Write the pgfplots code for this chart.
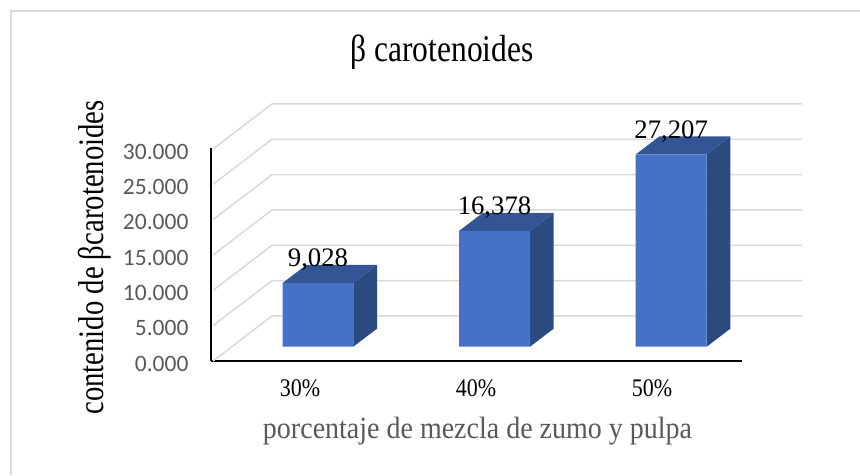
\documentclass[border=0pt]{standalone}
\usepackage{fontspec}
\setmainfont{Liberation Serif}
\newfontfamily\carlito{Carlito}
\usepackage{pgfplots}
\pgfplotsset{compat=1.18}
\definecolor{barfront}{HTML}{4472C4}
\definecolor{bartop}{HTML}{335593}
\definecolor{barside}{HTML}{2A4A80}
\definecolor{gridc}{HTML}{D9D9D9}
\definecolor{txtg}{HTML}{595959}
\begin{document}
\begin{tikzpicture}[x=1pt,y=1pt]
\useasboundingbox (0,0) rectangle (860,475);
\draw[gridc,line width=1.6pt] (11,0) -- (11,464) -- (860,464);
% axis with the walls and the labels
\begin{axis}[
  at={(211pt,114pt)}, anchor=origin, scale only axis, width=531pt, height=213pt,
  xmin=211, xmax=742, ymin=0, ymax=30.14, clip=false,
  axis x line=bottom, axis y line=left,
  axis line style={-, black, line width=1.5pt},
  xtick={300,476,652}, xticklabels={30\%,40\%,50\%},
  ytick={0,5,10,15,20,25,30},
  major tick length=0pt,
  scaled y ticks=false,
  yticklabel style={font=\carlito\fontsize{23.5}{23.5}\selectfont, text=txtg,
     /pgf/number format/assume math mode=true,
     /pgf/number format/fixed, /pgf/number format/fixed zerofill,
     /pgf/number format/precision=3, /pgf/number format/1000 sep={},
     anchor=east, xshift=-19pt, yshift=-2.5pt},
  xticklabel style={font=\fontsize{22}{22}\selectfont, text=black, anchor=center, yshift=-27pt, yscale=1.15},
  title={β carotenoides},
  title style={at={(axis description cs:0.435,1.42)}, anchor=center, font=\fontsize{31.5}{32}\selectfont, yscale=1.2},
  xlabel={porcentaje de mezcla de zumo y pulpa},
  xlabel style={at={(axis description cs:0.502,-0.329)}, anchor=center, text=txtg, font=\fontsize{28}{28}\selectfont, yscale=1.1},
  ylabel={contenido de βcarotenoides},
  ylabel style={at={(axis description cs:-0.2185,0.486)}, anchor=center, rotate=0, font=\fontsize{28.7}{29}\selectfont, yscale=1.25},
]
\addplot[gridc, line width=1.5pt, no markers] coordinates {(213,0) (272,6.37) (802,6.37)};
\addplot[gridc, line width=1.5pt, no markers] coordinates {(213,5) (272,11.37) (802,11.37)};
\addplot[gridc, line width=1.5pt, no markers] coordinates {(213,10) (272,16.37) (802,16.37)};
\addplot[gridc, line width=1.5pt, no markers] coordinates {(213,15) (272,21.37) (802,21.37)};
\addplot[gridc, line width=1.5pt, no markers] coordinates {(213,20) (272,26.37) (802,26.37)};
\addplot[gridc, line width=1.5pt, no markers] coordinates {(213,25) (272,31.37) (802,31.37)};
\addplot[gridc, line width=1.5pt, no markers] coordinates {(213,30) (272,36.37) (802,36.37)};
\end{axis}
% axis with the bars
\begin{axis}[
  at={(211pt,128.3pt)}, anchor=origin, scale only axis, width=531pt, height=212pt,
  xmin=211, xmax=742, ymin=0, ymax=30, clip=false, hide axis,
]
\addplot[fill=barside, draw=none] coordinates {(353.3,0) (377,2.55) (377,11.578) (353.3,9.028)} -- cycle;
\addplot[fill=bartop, draw=none] coordinates {(282.7,9.028) (306.4,11.578) (377,11.578) (353.3,9.028)} -- cycle;
\addplot[fill=barside, draw=none] coordinates {(530,0) (553.7,2.55) (553.7,18.928) (530,16.378)} -- cycle;
\addplot[fill=bartop, draw=none] coordinates {(459,16.378) (482.7,18.928) (553.7,18.928) (530,16.378)} -- cycle;
\addplot[fill=barside, draw=none] coordinates {(706.7,0) (730.4,2.55) (730.4,29.757) (706.7,27.207)} -- cycle;
\addplot[fill=bartop, draw=none] coordinates {(635.7,27.207) (659.4,29.757) (730.4,29.757) (706.7,27.207)} -- cycle;
\addplot[ybar, bar width=71pt, fill=barfront, draw=none,
  nodes near coords,
  nodes near coords style={anchor=base, yshift=16pt, text=black, font=\fontsize{26.7}{27}\selectfont,
     /pgf/number format/assume math mode=true,
     /pgf/number format/fixed, /pgf/number format/fixed zerofill,
     /pgf/number format/precision=3, /pgf/number format/use comma, /pgf/number format/1000 sep={}},
] coordinates {(318,9.028) (494.5,16.378) (671.2,27.207)};
\end{axis}
\end{tikzpicture}
\end{document}
